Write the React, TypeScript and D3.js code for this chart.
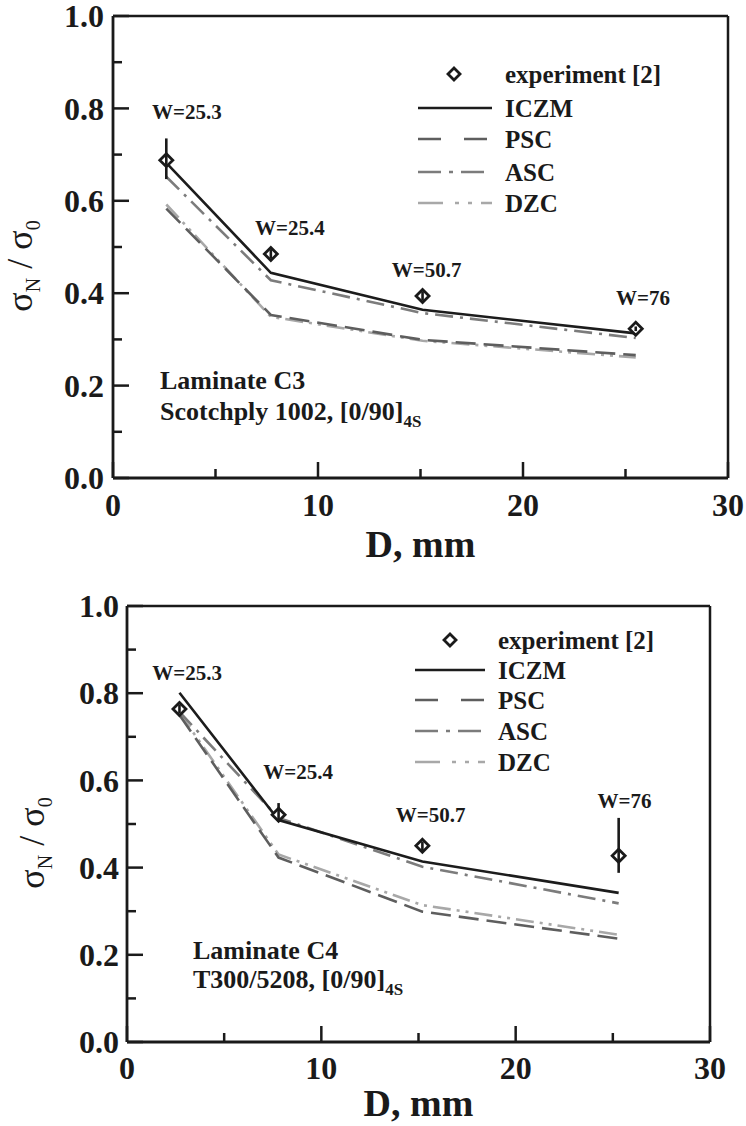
import React from "react";
import * as d3 from "d3";

// ---------- data: Laminate C3 (top) ----------
const C3_D = [2.6, 7.7, 15.1, 25.5];
const C3_EXP = [0.688, 0.485, 0.394, 0.323];
const C3_ERR_LO = [0.647, 0.475, 0.384, 0.318];
const C3_ERR_HI = [0.735, 0.495, 0.404, 0.328];
const C3_ICZM = [0.682, 0.444, 0.364, 0.313];
const C3_PSC = [0.583, 0.353, 0.299, 0.266];
const C3_ASC = [0.652, 0.428, 0.357, 0.303];
const C3_DZC = [0.592, 0.349, 0.297, 0.261];
const C3_W_LABELS = ["W=25.3", "W=25.4", "W=50.7", "W=76"];
const C3_W_X = [3.6, 8.63, 15.3, 25.85];
const C3_W_Y = [0.793, 0.541, 0.452, 0.39];

// ---------- data: Laminate C4 (bottom) ----------
const C4_D = [2.7, 7.8, 15.2, 25.3];
const C4_EXP = [0.764, 0.521, 0.45, 0.427];
const C4_ERR_LO = [0.754, 0.505, 0.44, 0.388];
const C4_ERR_HI = [0.774, 0.548, 0.46, 0.514];
const C4_ICZM = [0.801, 0.509, 0.414, 0.342];
const C4_PSC = [0.75, 0.423, 0.299, 0.237];
const C4_ASC = [0.757, 0.514, 0.402, 0.318];
const C4_DZC = [0.755, 0.43, 0.314, 0.246];
const C4_W_LABELS = ["W=25.3", "W=25.4", "W=50.7", "W=76"];
const C4_W_X = [3.09, 8.81, 15.62, 25.6];
const C4_W_Y = [0.847, 0.62, 0.521, 0.553];

// ---------- axes ----------
const X_MAJOR = [0, 10, 20, 30];
const X_MINOR = [5, 15, 25];
const Y_MAJOR = [0, 0.2, 0.4, 0.6, 0.8, 1.0];
const Y_MINOR = [0.1, 0.3, 0.5, 0.7, 0.9];
const LEGEND_LABELS = ["experiment [2]", "ICZM", "PSC", "ASC", "DZC"];

const FONT = "'Liberation Serif', 'Times New Roman', serif";

const STYLES = {
  ICZM: { stroke: "#1c1c1c", dash: "none", legendDash: "none" },
  PSC: { stroke: "#5e5e5e", dash: "20,8", legendDash: "23,23" },
  ASC: { stroke: "#7c7c7c", dash: "18,7,3,7", legendDash: "23,8,4,8" },
  DZC: { stroke: "#a8a8a8", dash: "18,6,3,6,3,6", legendDash: "25,12,4,9,4,9" },
};

type PanelProps = {
  box: { l: number; r: number; t: number; b: number };
  d: number[];
  exp: number[];
  lo: number[];
  hi: number[];
  series: { name: keyof typeof STYLES; vals: number[] }[];
  wLabels: string[];
  wX: number[];
  wY: number[];
  legend: { dx: number; lx1: number; lx2: number; tx: number; rows: number[] };
  note: { x: number; y1: number; y2: number; l1: string; l2: string };
  yTitle: { x: number; y: number };
  xTitleY: number;
  xLabelY: number;
  yLabelRight: number;
};

function diamond(cx: number, cy: number, s: number) {
  return `M${cx},${cy - s}L${cx + s},${cy}L${cx},${cy + s}L${cx - s},${cy}Z`;
}

function Panel(p: PanelProps) {
  const x = d3.scaleLinear().domain([0, 30]).range([p.box.l, p.box.r]);
  const y = d3.scaleLinear().domain([0, 1]).range([p.box.b, p.box.t]);
  const line = d3
    .line<number>()
    .x((_, i) => x(p.d[i]))
    .y((v) => y(v));
  const axisW = 2.8;
  return (
    <g fontFamily={FONT}>
      {/* frame */}
      <line x1={p.box.l} x2={p.box.r} y1={p.box.t} y2={p.box.t} stroke="#1a1a1a" strokeWidth={2.5} />
      <line x1={p.box.r} x2={p.box.r} y1={p.box.t} y2={p.box.b} stroke="#1a1a1a" strokeWidth={2.5} />
      <line x1={p.box.l} x2={p.box.r} y1={p.box.b} y2={p.box.b} stroke="#1a1a1a" strokeWidth={axisW} />
      <line x1={p.box.l} x2={p.box.l} y1={p.box.t} y2={p.box.b} stroke="#1a1a1a" strokeWidth={axisW} />
      {/* ticks */}
      {X_MAJOR.map((v) => (
        <line key={"xM" + v} x1={x(v)} x2={x(v)} y1={p.box.b} y2={p.box.b - 16} stroke="#1a1a1a" strokeWidth={2.5} />
      ))}
      {X_MINOR.map((v) => (
        <line key={"xm" + v} x1={x(v)} x2={x(v)} y1={p.box.b} y2={p.box.b - 9} stroke="#1a1a1a" strokeWidth={2.5} />
      ))}
      {Y_MAJOR.map((v) => (
        <line key={"yM" + v} x1={p.box.l} x2={p.box.l + 16} y1={y(v)} y2={y(v)} stroke="#1a1a1a" strokeWidth={2.5} />
      ))}
      {Y_MINOR.map((v) => (
        <line key={"ym" + v} x1={p.box.l} x2={p.box.l + 9} y1={y(v)} y2={y(v)} stroke="#1a1a1a" strokeWidth={2.5} />
      ))}
      {X_MAJOR.map((v) => (
        <text key={"xl" + v} x={x(v)} y={p.xLabelY} textAnchor="middle" fontSize={32} fontWeight="bold" fill="#1a1a1a">
          {v}
        </text>
      ))}
      {Y_MAJOR.map((v) => (
        <text
          key={"yl" + v}
          x={p.yLabelRight}
          y={y(v)}
          dy="0.35em"
          textAnchor="end"
          fontSize={32}
          fontWeight="bold"
          fill="#1a1a1a"
        >
          {v.toFixed(1)}
        </text>
      ))}
      {/* axis titles */}
      <text x={(p.box.l + p.box.r) / 2} y={p.xTitleY} textAnchor="middle" fontSize={38} fontWeight="bold" fill="#1a1a1a">
        D, mm
      </text>
      <text
        transform={`translate(${p.yTitle.x},${p.yTitle.y}) rotate(-90)`}
        textAnchor="middle"
        fontSize={36}
        fill="#1a1a1a"
      >
        σ<tspan fontSize={20} dy={8}>N</tspan>
        <tspan dy={-8}> / σ</tspan>
        <tspan fontSize={20} dy={8}>0</tspan>
      </text>
      {/* series lines */}
      {p.series.map((s) => (
        <path
          key={s.name}
          d={line(s.vals) || ""}
          fill="none"
          stroke={STYLES[s.name].stroke}
          strokeWidth={2.6}
          strokeDasharray={STYLES[s.name].dash}
        />
      ))}
      {/* experiment */}
      {p.exp.map((v, i) => (
        <g key={"e" + i}>
          <path d={diamond(x(p.d[i]), y(v), 6.5)} fill="#fff" stroke="#1a1a1a" strokeWidth={2.8} />
          <line x1={x(p.d[i])} x2={x(p.d[i])} y1={y(p.lo[i])} y2={y(p.hi[i])} stroke="#1a1a1a" strokeWidth={2.6} />
        </g>
      ))}
      {/* W labels */}
      {p.wLabels.map((t, i) => (
        <text
          key={"w" + i}
          x={x(p.wX[i])}
          y={y(p.wY[i])}
          dy="0.35em"
          textAnchor="middle"
          fontSize={21}
          fontWeight="bold"
          fill="#1a1a1a"
        >
          {t}
        </text>
      ))}
      {/* legend */}
      <path d={diamond(p.legend.dx, p.legend.rows[0], 6)} fill="#fff" stroke="#1a1a1a" strokeWidth={2.8} />
      {(["ICZM", "PSC", "ASC", "DZC"] as const).map((n, i) => (
        <line
          key={"lg" + n}
          x1={p.legend.lx1}
          x2={p.legend.lx2}
          y1={p.legend.rows[i + 1]}
          y2={p.legend.rows[i + 1]}
          stroke={STYLES[n].stroke}
          strokeWidth={2.6}
          strokeDasharray={STYLES[n].legendDash}
        />
      ))}
      {LEGEND_LABELS.map((t, i) => (
        <text
          key={"lt" + i}
          x={p.legend.tx}
          y={p.legend.rows[i]}
          dy="0.35em"
          fontSize={25}
          fontWeight="bold"
          fill="#1a1a1a"
        >
          {t}
        </text>
      ))}
      {/* note */}
      <text x={p.note.x} y={p.note.y1} dy="0.35em" fontSize={26} fontWeight="bold" fill="#1a1a1a">
        {p.note.l1}
      </text>
      <text x={p.note.x} y={p.note.y2} dy="0.35em" fontSize={26} fontWeight="bold" fill="#1a1a1a">
        {p.note.l2}, [0/90]
        <tspan fontSize={17} dy={7}>4S</tspan>
      </text>
    </g>
  );
}

export default function App() {
  return (
    <svg
      width={746}
      height={1126}
      style={{ position: "absolute", left: 0, top: 0, background: "#fff" }}
    >
      <rect width={746} height={1126} fill="#fff" />
      <Panel
        box={{ l: 113, r: 728, t: 16, b: 478 }}
        d={C3_D}
        exp={C3_EXP}
        lo={C3_ERR_LO}
        hi={C3_ERR_HI}
        series={[
          { name: "DZC", vals: C3_DZC },
          { name: "PSC", vals: C3_PSC },
          { name: "ASC", vals: C3_ASC },
          { name: "ICZM", vals: C3_ICZM },
        ]}
        wLabels={C3_W_LABELS}
        wX={C3_W_X}
        wY={C3_W_Y}
        legend={{ dx: 454, lx1: 418, lx2: 492, tx: 505, rows: [74, 108, 139, 172, 203] }}
        note={{ x: 160, y1: 380, y2: 411, l1: "Laminate C3", l2: "Scotchply 1002" }}
        yTitle={{ x: 32, y: 266 }}
        xTitleY={557}
        xLabelY={516}
        yLabelRight={104}
      />
      <Panel
        box={{ l: 127, r: 710, t: 606, b: 1042 }}
        d={C4_D}
        exp={C4_EXP}
        lo={C4_ERR_LO}
        hi={C4_ERR_HI}
        series={[
          { name: "DZC", vals: C4_DZC },
          { name: "PSC", vals: C4_PSC },
          { name: "ASC", vals: C4_ASC },
          { name: "ICZM", vals: C4_ICZM },
        ]}
        wLabels={C4_W_LABELS}
        wX={C4_W_X}
        wY={C4_W_Y}
        legend={{ dx: 450, lx1: 415, lx2: 485, tx: 498, rows: [640, 670, 700, 731, 762] }}
        note={{ x: 193, y1: 950, y2: 979, l1: "Laminate C4", l2: "T300/5208" }}
        yTitle={{ x: 44, y: 843 }}
        xTitleY={1116}
        xLabelY={1079}
        yLabelRight={119}
      />
    </svg>
  );
}
